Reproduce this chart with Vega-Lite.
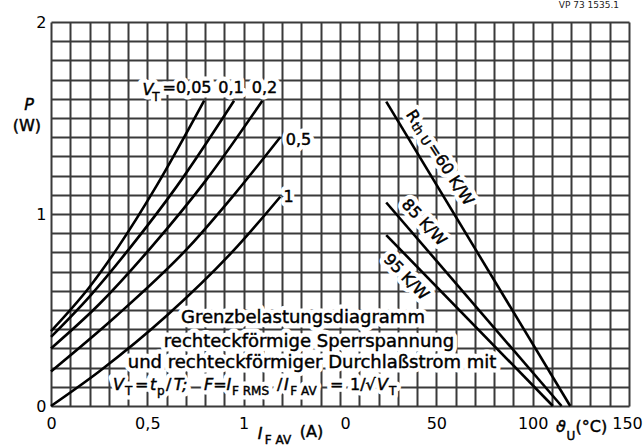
{
  "$schema": "https://vega.github.io/schema/vega-lite/v6.json",
  "width": 578,
  "height": 384,
  "autosize": {"type": "none"},
  "padding": {"left": 51, "top": 22, "right": 14, "bottom": 42},
  "background": "white",
  "title": {"text": "VP 73 1535.1", "anchor": "end", "frame": "group", "dx": -10, "fontSize": 9, "fontWeight": "normal", "font": "DejaVu Sans", "offset": 4, "color": "#222"},
  "config": {
    "view": {"stroke": null},
    "text": {"font": "DejaVu Sans"},
    "axis": {"labelFont": "DejaVu Sans", "labelFontSize": 16, "labelColor": "black"}
  },
  "datasets": {
    "curves": [
      {"vt": "0,05", "i": 0, "p": 0.39}, {"vt": "0,05", "i": 0.2, "p": 0.62}, {"vt": "0,05", "i": 0.35, "p": 0.83}, {"vt": "0,05", "i": 0.55, "p": 1.15}, {"vt": "0,05", "i": 0.795, "p": 1.59},
      {"vt": "0,1", "i": 0, "p": 0.36}, {"vt": "0,1", "i": 0.2, "p": 0.57}, {"vt": "0,1", "i": 0.415, "p": 0.83}, {"vt": "0,1", "i": 0.65, "p": 1.14}, {"vt": "0,1", "i": 0.95, "p": 1.59},
      {"vt": "0,2", "i": 0, "p": 0.3}, {"vt": "0,2", "i": 0.25, "p": 0.53}, {"vt": "0,2", "i": 0.523, "p": 0.83}, {"vt": "0,2", "i": 0.8, "p": 1.17}, {"vt": "0,2", "i": 1.097, "p": 1.59},
      {"vt": "0,5", "i": 0, "p": 0.18}, {"vt": "0,5", "i": 0.34, "p": 0.47}, {"vt": "0,5", "i": 0.717, "p": 0.83}, {"vt": "0,5", "i": 0.95, "p": 1.1}, {"vt": "0,5", "i": 1.19, "p": 1.4},
      {"vt": "1", "i": 0, "p": 0}, {"vt": "1", "i": 0.25, "p": 0.18}, {"vt": "1", "i": 0.6, "p": 0.47}, {"vt": "1", "i": 0.966, "p": 0.83}, {"vt": "1", "i": 1.19, "p": 1.09}
    ],
    "rth": [
      {"r": "60", "t": 24, "p": 1.585}, {"r": "60", "t": 119.5, "p": 0},
      {"r": "85", "t": 24, "p": 1.06}, {"r": "85", "t": 115, "p": 0},
      {"r": "95", "t": 24, "p": 0.89}, {"r": "95", "t": 110.5, "p": 0}
    ],
    "leftlabels": [
      {"txt": "V", "i": 0.503, "p": 1.648, "role": "i"},
      {"txt": "T", "i": 0.545, "p": 1.608, "role": "s"},
      {"txt": "=0,05", "i": 0.706, "p": 1.656, "role": "m"},
      {"txt": "0,1", "i": 0.934, "p": 1.656, "role": "m"},
      {"txt": "0,2", "i": 1.108, "p": 1.656, "role": "m"},
      {"txt": "0,5", "i": 1.285, "p": 1.388, "role": "m"},
      {"txt": "1", "i": 1.233, "p": 1.086, "role": "m"},
      {"txt": "Grenzbelastungsdiagramm", "i": 1.308, "p": 0.458, "role": "b"},
      {"txt": "rechteckförmige Sperrspannung", "i": 1.339, "p": 0.333, "role": "b"},
      {"txt": "und rechteckförmiger Durchlaßstrom mit", "i": 1.355, "p": 0.224, "role": "b"},
      {"txt": "V", "i": 0.3501, "p": 0.109, "role": "i"},
      {"txt": "T", "i": 0.403, "p": 0.078, "role": "s"},
      {"txt": "=", "i": 0.4708, "p": 0.109, "role": "m"},
      {"txt": "t", "i": 0.5302, "p": 0.109, "role": "i"},
      {"txt": "p", "i": 0.5699, "p": 0.078, "role": "s"},
      {"txt": "/", "i": 0.6109, "p": 0.109, "role": "m"},
      {"txt": "T;", "i": 0.6727, "p": 0.109, "role": "i"},
      {"txt": "F=I", "i": 0.8649, "p": 0.109, "role": "i"},
      {"txt": "F RMS", "i": 1.0355, "p": 0.078, "role": "s"},
      {"txt": "/", "i": 1.187, "p": 0.109, "role": "m"},
      {"txt": "I", "i": 1.2215, "p": 0.109, "role": "i"},
      {"txt": "F AV", "i": 1.3108, "p": 0.078, "role": "s"},
      {"txt": "=", "i": 1.4828, "p": 0.109, "role": "m"},
      {"txt": "1/√", "i": 1.6186, "p": 0.109, "role": "m"},
      {"txt": "V", "i": 1.7203, "p": 0.109, "role": "i"},
      {"txt": "T", "i": 1.7733, "p": 0.078, "role": "s"},
      {"txt": "P", "i": -0.114, "p": 1.57, "role": "i"},
      {"txt": "(W)", "i": -0.125, "p": 1.458, "role": "m"},
      {"txt": "I", "i": 1.085, "p": -0.148, "role": "i"},
      {"txt": "F AV", "i": 1.178, "p": -0.177, "role": "s"},
      {"txt": "(A)", "i": 1.352, "p": -0.135, "role": "m"}
    ],
    "rightlabels": [
      {"txt": "R", "t": 37.73, "p": 1.51, "role": "m", "r": "60"},
      {"txt": "th U", "t": 41.99, "p": 1.417, "role": "s", "r": "60"},
      {"txt": "=60 K/W", "t": 57.35, "p": 1.207, "role": "m", "r": "60"},
      {"txt": "85 K/W", "t": 43.6, "p": 0.956, "role": "m", "r": "85"},
      {"txt": "95 K/W", "t": 34.3, "p": 0.672, "role": "m", "r": "95"},
      {"txt": "ϑ", "t": 114.7, "p": -0.109, "role": "i", "r": "0"},
      {"txt": "U", "t": 119.9, "p": -0.156, "role": "s", "r": "0"},
      {"txt": "(°C)", "t": 130.5, "p": -0.109, "role": "m", "r": "0"}
    ]
  },
  "layer": [
    {
      "encoding": {
        "x": {"field": "i", "type": "quantitative", "scale": {"domain": [0, 3], "nice": false, "zero": false},
          "axis": {"values": [0,0.1,0.2,0.3,0.4,0.5,0.6,0.7,0.8,0.9,1,1.1,1.2,1.3,1.4,1.5,1.6,1.7,1.8,1.9,2,2.1,2.2,2.3,2.4,2.5,2.6,2.7,2.8,2.9,3],
            "labelExpr": "datum.value == 0 ? '0' : datum.value == 0.5 ? '0,5' : datum.value == 1 ? '1' : ''",
            "grid": true, "gridColor": "#3a3a3a", "gridWidth": 2, "domain": false, "ticks": false,
            "labelPadding": 9, "labelOverlap": false, "labelFlush": false, "labelBound": false, "title": null, "orient": "bottom"}},
        "y": {"field": "p", "type": "quantitative", "scale": {"domain": [0, 2], "nice": false, "zero": false},
          "axis": {"values": [0,0.1,0.2,0.3,0.4,0.5,0.6,0.7,0.8,0.9,1,1.1,1.2,1.3,1.4,1.5,1.6,1.7,1.8,1.9,2],
            "labelExpr": "datum.value == 0 ? '0' : datum.value == 1 ? '1' : datum.value == 2 ? '2' : ''",
            "grid": true, "gridColor": "#3a3a3a", "gridWidth": 2, "domain": false, "ticks": false,
            "labelPadding": 5, "labelOverlap": false, "labelFlush": false, "title": null}}
      },
      "layer": [
        {
          "data": {"values": [{"i": 1.5}]},
          "mark": {"type": "rule", "color": "#111", "strokeWidth": 2.4},
          "encoding": {"y": {"datum": -0.07}, "y2": {"datum": 2.04}}
        },
        {
          "data": {"name": "leftlabels"},
          "mark": {"type": "text", "align": "center", "baseline": "middle", "fill": "white", "stroke": "white", "strokeWidth": 9, "strokeJoin": "round"},
          "encoding": {"text": {"field": "txt"}, "size": {"field": "role", "type": "nominal", "scale": {"type": "ordinal", "domain": ["b", "m", "i", "s"], "range": [18, 16, 16, 12]}, "legend": null}}
        },
        {
          "data": {"name": "curves"},
          "mark": {"type": "line", "color": "black", "strokeWidth": 2.6, "interpolate": "monotone"},
          "encoding": {"detail": {"field": "vt"}}
        },
        {
          "data": {"name": "leftlabels"},
          "transform": [{"filter": "datum.role != 'i'"}],
          "mark": {"type": "text", "align": "center", "baseline": "middle", "fill": "black", "stroke": "black", "strokeWidth": 0.45},
          "encoding": {"text": {"field": "txt"}, "size": {"field": "role", "type": "nominal", "scale": {"type": "ordinal", "domain": ["b", "m", "i", "s"], "range": [18, 16, 16, 12]}, "legend": null}}
        },
        {
          "data": {"name": "leftlabels"},
          "transform": [{"filter": "datum.role == 'i'"}],
          "mark": {"type": "text", "align": "center", "baseline": "middle", "fill": "black", "stroke": "black", "strokeWidth": 0.45, "fontStyle": "italic"},
          "encoding": {"text": {"field": "txt"}, "size": {"field": "role", "type": "nominal", "scale": {"type": "ordinal", "domain": ["b", "m", "i", "s"], "range": [18, 16, 16, 12]}, "legend": null}}
        }
      ]
    },
    {
      "encoding": {
        "x": {"field": "t", "type": "quantitative", "scale": {"domain": [-150, 150], "nice": false, "zero": false},
          "axis": {"orient": "bottom", "values": [0, 50, 100, 150], "grid": false, "domain": false, "ticks": false,
            "labelPadding": 9, "labelOverlap": false, "labelFlush": false, "labelBound": false, "title": null,
            "labelAlign": {"condition": {"test": "datum.value <= 0", "value": "left"}, "value": "center"},
            "labelOffset": {"condition": {"test": "datum.value >= 150", "value": -2}, "value": 0}}},
        "y": {"field": "p", "type": "quantitative", "scale": {"domain": [0, 2], "nice": false, "zero": false},
          "axis": {"values": [0,0.1,0.2,0.3,0.4,0.5,0.6,0.7,0.8,0.9,1,1.1,1.2,1.3,1.4,1.5,1.6,1.7,1.8,1.9,2],
            "labelExpr": "datum.value == 0 ? '0' : datum.value == 1 ? '1' : datum.value == 2 ? '2' : ''",
            "grid": true, "gridColor": "#3a3a3a", "gridWidth": 2, "domain": false, "ticks": false,
            "labelPadding": 5, "labelOverlap": false, "labelFlush": false, "title": null}}
      },
      "layer": [
        {
          "data": {"name": "rightlabels"},
          "mark": {"type": "text", "align": "center", "baseline": "middle", "fill": "white", "stroke": "white", "strokeWidth": 9, "strokeJoin": "round"},
          "encoding": {"text": {"field": "txt"},
            "size": {"field": "role", "type": "nominal", "scale": {"type": "ordinal", "domain": ["b", "m", "i", "s"], "range": [18, 16, 16, 12]}, "legend": null},
            "angle": {"field": "r", "type": "nominal", "scale": {"type": "ordinal", "domain": ["0", "60", "85", "95"], "range": [0, 57, 47, 46]}}}
        },
        {
          "data": {"name": "rth"},
          "mark": {"type": "line", "color": "black", "strokeWidth": 2.6},
          "encoding": {"detail": {"field": "r"}}
        },
        {
          "data": {"name": "rightlabels"},
          "transform": [{"filter": "datum.role != 'i'"}],
          "mark": {"type": "text", "align": "center", "baseline": "middle", "fill": "black", "stroke": "black", "strokeWidth": 0.45},
          "encoding": {"text": {"field": "txt"},
            "size": {"field": "role", "type": "nominal", "scale": {"type": "ordinal", "domain": ["b", "m", "i", "s"], "range": [18, 16, 16, 12]}, "legend": null},
            "angle": {"field": "r", "type": "nominal", "scale": {"type": "ordinal", "domain": ["0", "60", "85", "95"], "range": [0, 57, 47, 46]}}}
        },
        {
          "data": {"name": "rightlabels"},
          "transform": [{"filter": "datum.role == 'i'"}],
          "mark": {"type": "text", "align": "center", "baseline": "middle", "fill": "black", "stroke": "black", "strokeWidth": 0.45, "fontStyle": "italic"},
          "encoding": {"text": {"field": "txt"},
            "size": {"field": "role", "type": "nominal", "scale": {"type": "ordinal", "domain": ["b", "m", "i", "s"], "range": [18, 16, 16, 12]}, "legend": null},
            "angle": {"field": "r", "type": "nominal", "scale": {"type": "ordinal", "domain": ["0", "60", "85", "95"], "range": [0, 57, 47, 46]}}}
        }
      ]
    }
  ],
  "resolve": {"scale": {"x": "independent"}, "axis": {"x": "independent"}}
}
